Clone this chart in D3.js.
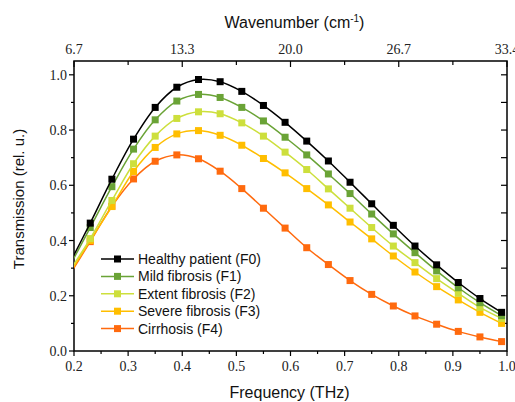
<!DOCTYPE html>
<html>
<head>
<meta charset="utf-8">
<script src="https://cdn.jsdelivr.net/npm/d3@7"></script>
<style>
  body { margin: 0; background: #fff; }
  .tick-label { font-family: "Liberation Serif", "Times New Roman", serif; font-size: 14px; fill: #222; }
  .axis-title { font-family: "Liberation Sans", Arial, sans-serif; fill: #111; }
  .legend-text { font-family: "Liberation Sans", Arial, sans-serif; font-size: 14px; fill: #111; }
</style>
</head>
<body>
<svg id="chart"></svg>
<script>
// frequency points (THz); first one sits just left of the axis and gets clipped
var freq = [0.19, 0.23, 0.27, 0.31, 0.35, 0.39, 0.43, 0.47, 0.51, 0.55, 0.59,
            0.63, 0.67, 0.71, 0.75, 0.79, 0.83, 0.87, 0.91, 0.95, 0.99];

var healthyF0 = [0.31, 0.463, 0.622, 0.767, 0.882, 0.955, 0.983, 0.975, 0.940, 0.889, 0.828,
                 0.760, 0.688, 0.611, 0.533, 0.455, 0.380, 0.312, 0.248, 0.190, 0.140];
var mildF1 = [0.30, 0.447, 0.595, 0.731, 0.837, 0.905, 0.929, 0.918, 0.882, 0.833, 0.774,
              0.710, 0.641, 0.570, 0.496, 0.424, 0.356, 0.290, 0.229, 0.175, 0.128];
var extentF2 = [0.285, 0.407, 0.545, 0.678, 0.778, 0.842, 0.866, 0.859, 0.826, 0.778, 0.720,
                0.657, 0.587, 0.517, 0.447, 0.380, 0.320, 0.262, 0.209, 0.158, 0.118];
var severeF3 = [0.275, 0.400, 0.523, 0.650, 0.737, 0.786, 0.798, 0.781, 0.745, 0.697, 0.645,
                0.588, 0.529, 0.467, 0.406, 0.344, 0.286, 0.233, 0.185, 0.140, 0.100];
var cirrhosisF4 = [0.27, 0.396, 0.524, 0.623, 0.687, 0.710, 0.696, 0.651, 0.588, 0.517, 0.445,
                   0.374, 0.313, 0.255, 0.205, 0.163, 0.127, 0.097, 0.071, 0.051, 0.034];

var seriesNames = ["Healthy patient (F0)", "Mild fibrosis (F1)", "Extent fibrosis (F2)",
                   "Severe fibrosis (F3)", "Cirrhosis (F4)"];
var seriesColors = ["#000000", "#6aa336", "#cddf3c", "#ffbe00", "#ff6a0e"];
var seriesValues = [healthyF0, mildF1, extentF2, severeF3, cirrhosisF4];

var bottomTicks = [0.2, 0.3, 0.4, 0.5, 0.6, 0.7, 0.8, 0.9, 1.0];
var topTickLabels = ["6.7", "13.3", "20.0", "26.7", "33.4"];
var leftTicks = [0.0, 0.2, 0.4, 0.6, 0.8, 1.0];

var svgWidth = 515, svgHeight = 402;
var margin = { top: 61, right: 8, bottom: 51, left: 74 };
var width = svgWidth - margin.left - margin.right;
var height = svgHeight - margin.top - margin.bottom;

var svg = d3.select("#chart")
    .attr("width", svgWidth)
    .attr("height", svgHeight);

var chartGroup = svg.append("g")
    .attr("transform", `translate(${margin.left}, ${margin.top})`);

var xScale = d3.scaleLinear().domain([0.2, 1.0]).range([0, width]);
var yScale = d3.scaleLinear().domain([0, 1.05]).range([height, 0]);

// frame
chartGroup.append("rect")
    .attr("width", width).attr("height", height)
    .attr("fill", "none").attr("stroke", "#000").attr("stroke-width", 1.5);

function tickLines(g, values, x1, y1, x2, y2) {
  g.selectAll(null).data(values).enter().append("line")
    .attr("x1", x1).attr("y1", y1).attr("x2", x2).attr("y2", y2)
    .attr("stroke", "#000").attr("stroke-width", 1.2);
}

var ticksG = chartGroup.append("g");
// bottom: major + minor, outward
tickLines(ticksG, bottomTicks, d => xScale(d), height, d => xScale(d), height + 5);
tickLines(ticksG, d3.range(0.25, 1.0, 0.1), d => xScale(d), height, d => xScale(d), height + 3);
// top: inward
tickLines(ticksG, [0.2, 0.4, 0.6, 0.8, 1.0], d => xScale(d), 0, d => xScale(d), 6);
tickLines(ticksG, [0.3, 0.5, 0.7, 0.9], d => xScale(d), 0, d => xScale(d), 4);
// left: outward
tickLines(ticksG, leftTicks, 0, d => yScale(d), -5, d => yScale(d));
tickLines(ticksG, [0.1, 0.3, 0.5, 0.7, 0.9], 0, d => yScale(d), -3, d => yScale(d));
// right: inward every 0.1
tickLines(ticksG, d3.range(0.1, 1.01, 0.1), width, d => yScale(d), width - 6, d => yScale(d));

// tick labels
chartGroup.selectAll(".xlab").data(bottomTicks).enter().append("text")
    .attr("class", "tick-label")
    .attr("x", d => xScale(d)).attr("y", height + 20)
    .attr("text-anchor", "middle")
    .text(d => d.toFixed(1));

chartGroup.selectAll(".ylab").data(leftTicks).enter().append("text")
    .attr("class", "tick-label")
    .attr("x", -7).attr("y", d => yScale(d) + 5)
    .attr("text-anchor", "end")
    .text(d => d.toFixed(1));

chartGroup.selectAll(".toplab").data(topTickLabels).enter().append("text")
    .attr("class", "tick-label")
    .attr("x", (d, i) => xScale(0.2 + i * 0.2)).attr("y", -7)
    .attr("text-anchor", "middle")
    .text(d => d);

// axis titles
svg.append("text")
    .attr("class", "axis-title")
    .style("font-size", "16px")
    .attr("x", margin.left + width / 2 - 1).attr("y", 398)
    .attr("text-anchor", "middle")
    .text("Frequency (THz)");

svg.append("text")
    .attr("class", "axis-title")
    .style("font-size", "15px")
    .attr("transform", `translate(24, ${margin.top + 138}) rotate(-90)`)
    .attr("text-anchor", "middle")
    .text("Transmission (rel. u.)");

var topTitle = svg.append("text")
    .attr("class", "axis-title")
    .style("font-size", "16px")
    .attr("x", margin.left + width / 2 + 4).attr("y", 28)
    .attr("text-anchor", "middle");
topTitle.append("tspan").text("Wavenumber (cm");
topTitle.append("tspan").attr("dy", -6).style("font-size", "10px").text("-1");
topTitle.append("tspan").attr("dy", 6).text(")");

// clip lines to the plot box
svg.append("defs").append("clipPath").attr("id", "plotClip")
  .append("rect").attr("width", width).attr("height", height);

var line = d3.line()
    .x(d => xScale(d[0]))
    .y(d => yScale(d[1]))
    .curve(d3.curveCatmullRom.alpha(0.5));

var plotG = chartGroup.append("g").attr("clip-path", "url(#plotClip)");
var msize = 7;

// draw back to front so healthy is on top
for (var s = seriesValues.length - 1; s >= 0; s--) {
  var pts = freq.map((f, i) => [f, seriesValues[s][i]]);
  plotG.append("path")
      .datum(pts)
      .attr("fill", "none")
      .attr("stroke", seriesColors[s])
      .attr("stroke-width", 1.5)
      .attr("d", line);
  plotG.selectAll(null)
      .data(pts.filter(p => p[0] >= 0.2))
      .enter().append("rect")
      .attr("x", d => xScale(d[0]) - msize / 2)
      .attr("y", d => yScale(d[1]) - msize / 2)
      .attr("width", msize).attr("height", msize)
      .attr("fill", seriesColors[s]);
}

// legend
var legend = svg.append("g").attr("transform", "translate(101, 259)");
var rows = legend.selectAll("g").data(seriesNames).enter().append("g")
    .attr("transform", (d, i) => `translate(0, ${i * 17.4})`);
rows.append("line")
    .attr("x1", 0).attr("x2", 33).attr("y1", 0).attr("y2", 0)
    .attr("stroke", (d, i) => seriesColors[i]).attr("stroke-width", 1.5);
rows.append("rect")
    .attr("x", 16.5 - msize / 2).attr("y", -msize / 2)
    .attr("width", msize).attr("height", msize)
    .attr("fill", (d, i) => seriesColors[i]);
rows.append("text")
    .attr("class", "legend-text")
    .attr("x", 37).attr("y", 5)
    .text(d => d);
</script>
</body>
</html>
